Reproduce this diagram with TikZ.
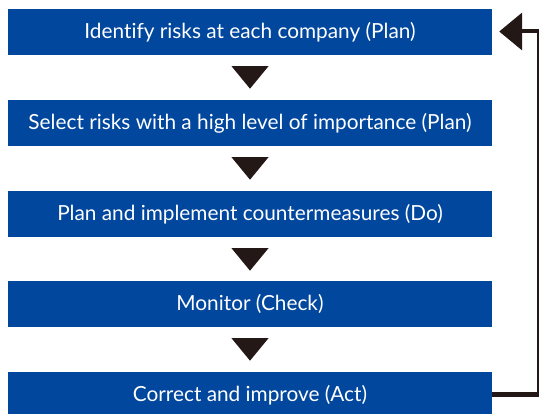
\documentclass[tikz,border=0pt]{standalone}
\usepackage{fontspec}
\setmainfont{Lato}[Ligatures=CommonOff]
\usetikzlibrary{arrows.meta,calc}
\definecolor{boxblue}{HTML}{00479D}
\definecolor{darkink}{HTML}{231815}
\begin{document}
\begin{tikzpicture}[x=1pt,y=1pt,
  stepbox/.style={fill=boxblue,text=white,minimum width=484pt,minimum height=46pt,inner sep=0pt,
    font=\fontsize{20.8}{23}\selectfont},
  tri/.style={fill=darkink}]
\useasboundingbox (0,0) rectangle (539,-414);
\node[stepbox] (a) at (250,-32) {Identify risks at each company (Plan)};
\node[stepbox] (b) at (250,-123) {Select risks with a high level of importance (Plan)};
\node[stepbox] (c) at (250,-214) {Plan and implement countermeasures (Do)};
\node[stepbox] (d) at (250,-304) {Monitor (Check)};
\node[stepbox] (e) at (250,-395) {Correct and improve (Act)};
\foreach \u in {a,b,c,d}{
  \fill[tri] ($(\u.south)+(-18.5,-11)$) -- ($(\u.south)+(18.5,-11)$) -- ($(\u.south)+(0,-33.5)$) -- cycle;
}
\coordinate (br) at (538,-394.5);
\coordinate (tr) at (538,-31.5);
\coordinate (tip) at ($(a.east)+(7,0.5)$);
\draw[darkink,line width=5pt] (e.east|-br) -- ([xshift=1pt]br);
\draw[darkink,line width=1.6pt] ([yshift=-2.5pt]br) -- ([yshift=2pt]tr);
\draw[darkink,line width=4pt,-{Triangle[length=23pt,width=37pt]}] ([xshift=0.8pt]tr) -- (tip);
\end{tikzpicture}
\end{document}
